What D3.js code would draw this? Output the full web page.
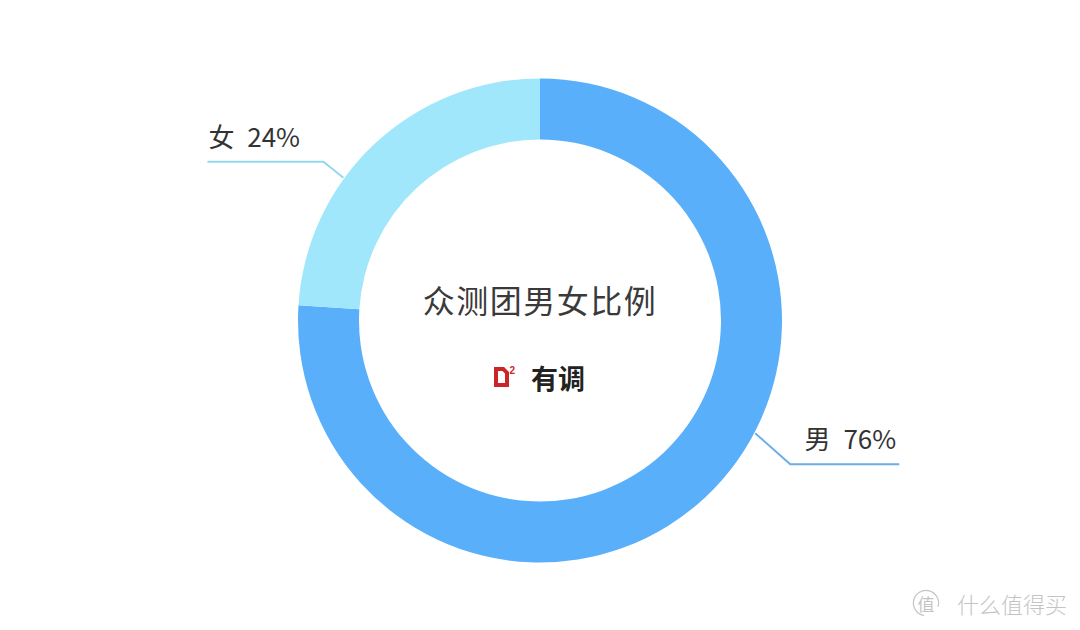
<!DOCTYPE html>
<html><head><meta charset="utf-8">
<script src="https://cdn.jsdelivr.net/npm/d3@7/dist/d3.min.js"></script>
<style>
html,body{margin:0;padding:0;background:#fff;}
svg{display:block;font-family:"Noto Sans CJK SC","Noto Sans",sans-serif;}
</style></head>
<body><svg id="c" width="1080" height="630"></svg>
<script>
const categories = ["男", "女"];
const values = [76, 24];
const labels = ["男 76%", "女 24%"];
const title = "众测团男女比例";
const brand = "有调";
const watermark = "什么值得买";

const colors = {"男": "#5aaffa", "女": "#a0e7fb"};
const lineColors = {"男": "#6aaee8", "女": "#92d9ee"};

const W = 1080, H = 630, cx = 540, cy = 320.5;
const rOuter = 242, rInner = 181;
const svg = d3.select("#c");
const g = svg.append("g").attr("transform", `translate(${cx},${cy})`);

const data = categories.map((c, i) => ({cat: c, value: values[i], label: labels[i]}));
const pie = d3.pie().value(d => d.value).sort(null);
const arcs = pie(data);
const arc = d3.arc().innerRadius(rInner).outerRadius(rOuter);

g.selectAll("path.slice").data(arcs).join("path")
  .attr("class", "slice")
  .attr("d", arc)
  .attr("fill", d => colors[d.data.cat]);

// leader lines & labels
const anchorFrac = {"男": 0.43, "女": 0.375};
const elbow = {"男": [35, 31], "女": [20, 16]};
const tail = {"男": 109, "女": 116};
arcs.forEach(a => {
  const f = anchorFrac[a.data.cat];
  const ang = a.startAngle + f * (a.endAngle - a.startAngle);
  const p0 = [Math.sin(ang) * (rOuter + 1), -Math.cos(ang) * (rOuter + 1)];
  const right = Math.sin(ang) > 0;
  const e = elbow[a.data.cat];
  const p1 = [p0[0] + (right ? 1 : -1) * e[0], p0[1] + (p0[1] > 0 ? 1 : -1) * e[1]];
  const p2 = [right ? p1[0] + tail[a.data.cat] : p1[0] - tail[a.data.cat], p1[1]];
  g.append("polyline")
    .attr("points", [p0, p1, p2].map(p => p.join(",")).join(" "))
    .attr("fill", "none")
    .attr("stroke", lineColors[a.data.cat])
    .attr("stroke-width", 2);
  g.append("text")
    .attr("x", right ? p2[0] - 3 : p2[0] + 1)
    .attr("y", p2[1] - 15)
    .attr("text-anchor", right ? "end" : "start")
    .attr("font-size", 26)
    .attr("word-spacing", 7)
    .attr("fill", "#333")
    .text(a.data.label);
});

// center title
g.append("text")
  .attr("x", 0).attr("y", -22)
  .attr("text-anchor", "middle")
  .attr("dominant-baseline", "central")
  .attr("font-size", 32)
  .attr("letter-spacing", 1.5)
  .attr("fill", "#3a3a3a")
  .text(title);

// brand logo
const lg = g.append("g").attr("transform", "translate(0,66)");
lg.append("path")
  .attr("d", "M-46,-19.5 L-36,-19.5 L-31,-14.5 L-31,0.5 L-46,0.5 Z M-42,-15.5 L-37.5,-15.5 L-35,-13 L-35,-3.5 L-42,-3.5 Z")
  .attr("fill-rule", "evenodd")
  .attr("fill", "#cc2529");
lg.append("text").attr("x", -30.5).attr("y", -12.5)
  .attr("font-family", "'Liberation Sans', Arial, sans-serif")
  .attr("font-weight", "bold").attr("font-size", 10).attr("fill", "#cc2529")
  .text("2");
lg.append("text").attr("x", -9).attr("y", 2)
  .attr("font-weight", "bold").attr("font-size", 27).attr("fill", "#222")
  .text(brand);

// watermark
const wm = svg.append("g").attr("transform", "translate(926,603)");
wm.append("path")
  .attr("d", d3.arc().innerRadius(12).outerRadius(13.2).startAngle(-Math.PI * 0.95).endAngle(Math.PI * 0.6)())
  .attr("fill", "#c4c4c4");
wm.append("text").attr("x", 0).attr("y", 0)
  .attr("text-anchor", "middle").attr("dominant-baseline", "central")
  .attr("font-size", 17).attr("fill", "#c4c4c4").text("值");
wm.append("text").attr("x", 31).attr("y", 0)
  .attr("dominant-baseline", "central")
  .attr("font-size", 22).attr("font-weight", 300).attr("fill", "#c4c4c4")
  .text(watermark);
</script></body></html>
